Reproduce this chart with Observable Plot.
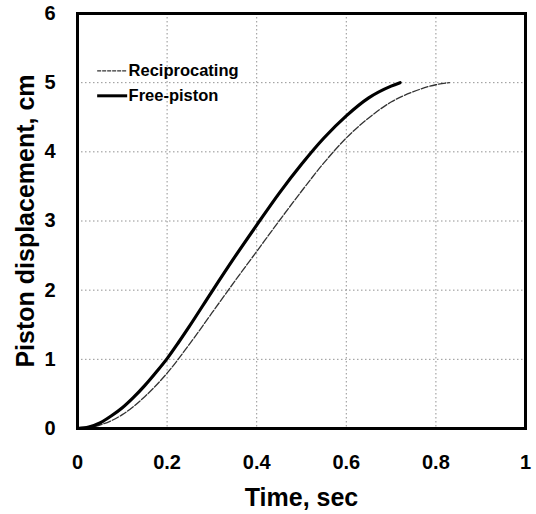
<!DOCTYPE html>
<html><head><meta charset="utf-8">
<script src="https://cdn.jsdelivr.net/npm/d3@7"></script>
<script src="https://cdn.jsdelivr.net/npm/@observablehq/plot@0.6"></script>
<style>
body{margin:0;background:#fff;}
#chart svg{display:block;}
</style>
</head><body><div id="chart"></div>
<script>
const seriesNames = ["Reciprocating", "Free-piston"];
const recipTime = [0,0.05,0.1,0.15,0.2,0.25,0.3,0.35,0.4,0.45,0.5,0.55,0.6,0.65,0.7,0.75,0.8,0.83];
const recipDisp = [0,0.05,0.2,0.46,0.8,1.22,1.67,2.12,2.56,3.0,3.43,3.84,4.2,4.49,4.72,4.87,4.97,5.0];
const freeTime = [0,0.025,0.05,0.075,0.1,0.125,0.15,0.175,0.2,0.225,0.25,0.3,0.35,0.4,0.45,0.5,0.55,0.6,0.65,0.7,0.72];
const freeDisp = [0,0.02,0.08,0.18,0.3,0.45,0.62,0.81,1.01,1.24,1.48,1.98,2.47,2.94,3.4,3.82,4.2,4.52,4.78,4.95,5.0];
const xTicks = [0,0.2,0.4,0.6,0.8,1];
const yTicks = [0,1,2,3,4,5,6];

const recip = recipTime.map((t,i)=>({t, d: recipDisp[i]}));
const free = freeTime.map((t,i)=>({t, d: freeDisp[i]}));
const legend = [
  {name: seriesNames[0], y: 5.17},
  {name: seriesNames[1], y: 4.81}
];

const chart = Plot.plot({
  width: 536, height: 514,
  marginLeft: 77, marginRight: 11, marginTop: 13, marginBottom: 86,
  style: {fontFamily: "'Liberation Sans', Arial, sans-serif", fontWeight: "bold", color: "#000", background: "#fff"},
  x: {domain: [0,1]},
  y: {domain: [0,6]},
  marks: [
    Plot.gridX(xTicks.slice(1,-1), {stroke: "#777", strokeOpacity: 1, strokeWidth: 0.8, strokeDasharray: "1.5,2.5"}),
    Plot.gridY(yTicks.slice(1,-1), {stroke: "#777", strokeOpacity: 1, strokeWidth: 0.8, strokeDasharray: "1.5,2.5"}),
    Plot.axisX(xTicks, {tickSize: 0, tickPadding: 26, fontSize: 20, fontWeight: "bold", label: null, tickFormat: d => String(d)}),
    Plot.axisY(yTicks, {tickSize: 0, tickPadding: 22, fontSize: 20, fontWeight: "bold", label: null, tickFormat: d => String(d)}),
    Plot.line(recip, {x: "t", y: "d", stroke: "#333", strokeWidth: 1.3, strokeDasharray: "7,2", curve: "monotone-x"}),
    Plot.line(free, {x: "t", y: "d", stroke: "#000", strokeWidth: 3.2, curve: "monotone-x"}),
    Plot.frame({stroke: "#000", strokeWidth: 3}),
    // legend
    Plot.ruleY([legend[0]], {y: "y", x1: 0.045, x2: 0.112, stroke: "#333", strokeWidth: 1.3, strokeDasharray: "4,1"}),
    Plot.ruleY([legend[1]], {y: "y", x1: 0.045, x2: 0.112, stroke: "#000", strokeWidth: 3}),
    Plot.text(legend, {x: 0.114, y: "y", text: "name", textAnchor: "start", fontSize: 16.5, fontWeight: "bold", fill: "#000"}),
    Plot.text(["Time, sec"], {frameAnchor: "bottom", dy: 77, fontSize: 25, fontWeight: "bold", fill: "#000"}),
    Plot.text(["Piston displacement, cm"], {frameAnchor: "left", textAnchor: "middle", dx: -52, rotate: -90, fontSize: 25, fontWeight: "bold", fill: "#000"})
  ]
});
document.getElementById("chart").appendChild(chart);
</script>
</body></html>
